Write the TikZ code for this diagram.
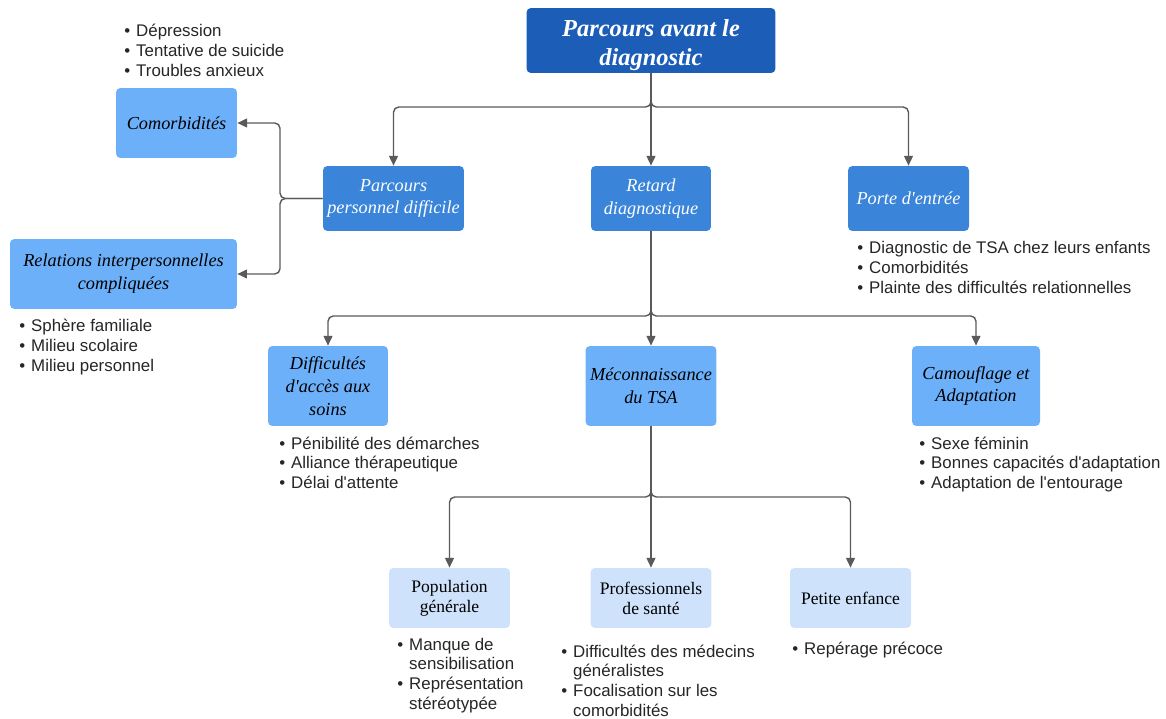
\documentclass[tikz,border=0pt]{standalone}
\usepackage{fontspec}
\setmainfont{Liberation Serif}
\newfontfamily\blfont{Liberation Sans}
\usetikzlibrary{arrows.meta}
\definecolor{cdark}{HTML}{1B5DB7}
\definecolor{cmid}{HTML}{3A85DA}
\definecolor{clight}{HTML}{6CB0FA}
\definecolor{cpale}{HTML}{CEE2FB}
\definecolor{cline}{HTML}{5A5A5A}
\definecolor{ctext}{HTML}{262626}
\tikzset{
 box/.style={draw=none, rounded corners=2.5pt, align=center, inner sep=0pt, anchor=center},
 lvlA/.style={box, fill=cdark, text=white, font=\fontsize{13.9}{16.4}\selectfont\bfseries\itshape},
 lvlB/.style={box, fill=cmid, text=white, font=\fontsize{10.4}{13}\selectfont\itshape},
 lvlC/.style={box, fill=clight, text=black, font=\fontsize{10.4}{13}\selectfont\itshape},
 lvlD/.style={box, fill=cpale, text=black, font=\fontsize{10}{11.3}\selectfont},
 conn/.style={draw=cline, line width=0.8pt, rounded corners=3pt, -{Triangle[length=5.5pt,width=5pt]}},
 blist/.style={anchor=base west, inner sep=0pt, text=ctext, font=\blfont\fontsize{9.6}{11.3}\selectfont},
}
\newcommand{\btab}[1]{\begin{tabular}[t]{@{}l@{\hspace{3.4pt}}l@{}}#1\end{tabular}}
\newcommand{\apo}{\textquotesingle}
\begin{document}
\begin{tikzpicture}[x=0.02cm,y=-0.02cm]
\useasboundingbox (0,0) rectangle (1166,719);
% level A
\node[lvlA, minimum width=4.98cm, minimum height=1.3cm] (top) at (651,40.5) {};
\node[lvlA, fill=none] (toptext) at (651,45) {Parcours avant le\\diagnostic};
% level B
\node[lvlB, minimum width=2.82cm, minimum height=1.3cm] (ppd) at (393.5,198.5) {Parcours\\personnel difficile};
\node[lvlB, minimum width=2.4cm, minimum height=1.3cm] (ret) at (651,198.5) {Retard\\diagnostique};
\node[lvlB, minimum width=2.42cm, minimum height=1.3cm] (porte) at (908.5,198.5) {Porte d\apo entrée};
% level C
\node[lvlC, minimum width=2.42cm, minimum height=1.4cm] (como) at (176.5,123) {Comorbidités};
\node[lvlC, minimum width=4.54cm, minimum height=1.4cm] (rel) at (123.5,274) {Relations interpersonnelles\\compliquées};
\node[lvlC, minimum width=2.4cm, minimum height=1.6cm] (diff) at (328,386) {Difficultés\\d\apo accès aux\\soins};
\node[lvlC, minimum width=2.62cm, minimum height=1.6cm] (mec) at (651,386) {Méconnaissance\\du TSA};
\node[lvlC, minimum width=2.56cm, minimum height=1.6cm] (cam) at (976,386) {Camouflage et\\Adaptation};
% level D
\node[lvlD, minimum width=2.42cm, minimum height=1.2cm] (pop) at (449.5,598) {Population\\générale};
\node[lvlD, minimum width=2.42cm, minimum height=1.2cm] (pro) at (651,598) {Professionnels\\de santé};
\node[lvlD, minimum width=2.42cm, minimum height=1.2cm] (pet) at (850.5,598) {Petite enfance};
% junctions
\coordinate (j1) at (651,107);
\coordinate (j2) at (651,316);
\coordinate (j3) at (651,497);
\coordinate (j4) at (280,198.5);
% connectors
\draw[conn] (top.south) -- (j1) -| (ppd.north);
\draw[conn] (top.south) -- (ret.north);
\draw[conn] (top.south) -- (j1) -| (porte.north);
\draw[conn] (ppd.west) -- (j4) |- (como.east);
\draw[conn] (ppd.west) -- (j4) |- (rel.east);
\draw[conn] (ret.south) -- (j2) -| (diff.north);
\draw[conn] (ret.south) -- (mec.north);
\draw[conn] (ret.south) -- (j2) -| (cam.north);
\draw[conn] (mec.south) -- (j3) -| (pop.north);
\draw[conn] (mec.south) -- (pro.north);
\draw[conn] (mec.south) -- (j3) -| (pet.north);
% bullet lists
\node[blist] (lcomo) at (124,37) {\btab{• & Dépression\\ • & Tentative de suicide\\ • & Troubles anxieux}};
\node[blist] (lrel) at (19,332) {\btab{• & Sphère familiale\\ • & Milieu scolaire\\ • & Milieu personnel}};
\node[blist] (lporte) at (857,254) {\btab{• & Diagnostic de TSA chez leurs enfants\\ • & Comorbidités\\ • & Plainte des difficultés relationnelles}};
\node[blist] (ldiff) at (279,449) {\btab{• & Pénibilité des démarches\\ • & Alliance thérapeutique\\ • & Délai d'attente}};
\node[blist] (lcam) at (919,449) {\btab{• & Sexe féminin\\ • & Bonnes capacités d'adaptation\\ • & Adaptation de l'entourage}};
\node[blist] (lpop) at (397,650) {\btab{• & Manque de\\ & sensibilisation\\ • & Représentation\\ & stéréotypée}};
\node[blist] (lpro) at (561,657) {\btab{• & Difficultés des médecins\\ & généralistes\\ • & Focalisation sur les\\ & comorbidités}};
\node[blist] (lpet) at (792,654) {\btab{• & Repérage précoce}};
\end{tikzpicture}
\end{document}
